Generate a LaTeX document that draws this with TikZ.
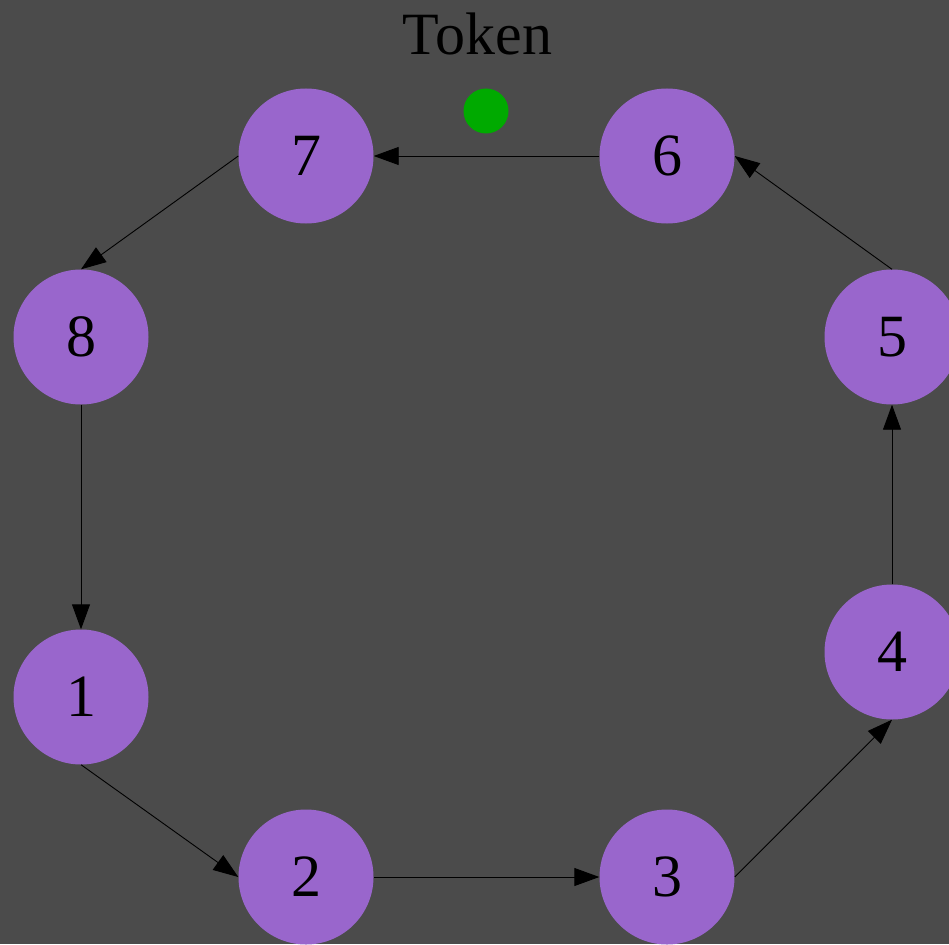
\documentclass[tikz,border=0pt]{standalone}
\usepackage{fontspec}
\setmainfont{Liberation Serif}
\usetikzlibrary{arrows.meta}
\definecolor{bgray}{HTML}{4B4B4B}
\definecolor{ringpurple}{HTML}{9966CC}
\definecolor{tokengreen}{HTML}{00AA00}
\tikzset{
  ringnode/.style={circle, fill=ringpurple, minimum size=135pt, inner sep=0pt,
    font=\fontsize{60pt}{60pt}\selectfont, text=black},
  link/.style={draw=black, line width=0.9pt,
    -{Triangle[length=25pt,width=18pt]}},
}
\begin{document}
\begin{tikzpicture}[x=1pt,y=-1pt]
  \useasboundingbox (0,0) rectangle (949,944);
  \fill[bgray] (0,0) rectangle (949,944);
  \clip (0,0) rectangle (949,944);

  % ring of stations
  \node[ringnode] (n1) at (81,697) {1};
  \node[ringnode] (n2) at (306,877) {2};
  \node[ringnode] (n3) at (667,877) {3};
  \node[ringnode] (n4) at (892,652) {4};
  \node[ringnode] (n5) at (892,337) {5};
  \node[ringnode] (n6) at (667,156) {6};
  \node[ringnode] (n7) at (306,156) {7};
  \node[ringnode] (n8) at (81,337) {8};

  % token label and marker
  \node[anchor=base, font=\fontsize{60pt}{60pt}\selectfont, text=black, inner sep=0pt]
    (tokenlabel) at (477.5,55) {Token};
  \node[circle, fill=tokengreen, minimum size=45pt, inner sep=0pt] (token) at (486,111) {};

  % links between neighbouring stations
  \draw[link] (n1.south) -- (n2.west);
  \draw[link] (n2.east) -- (n3.west);
  \draw[link] (n3.east) -- (n4.south);
  \draw[link] (n4.north) -- (n5.south);
  \draw[link] (n5.north) -- (n6.east);
  \draw[link] (n6.west) -- (n7.east);
  \draw[link] (n7.west) -- (n8.north);
  \draw[link] (n8.south) -- (n1.north);
\end{tikzpicture}
\end{document}
